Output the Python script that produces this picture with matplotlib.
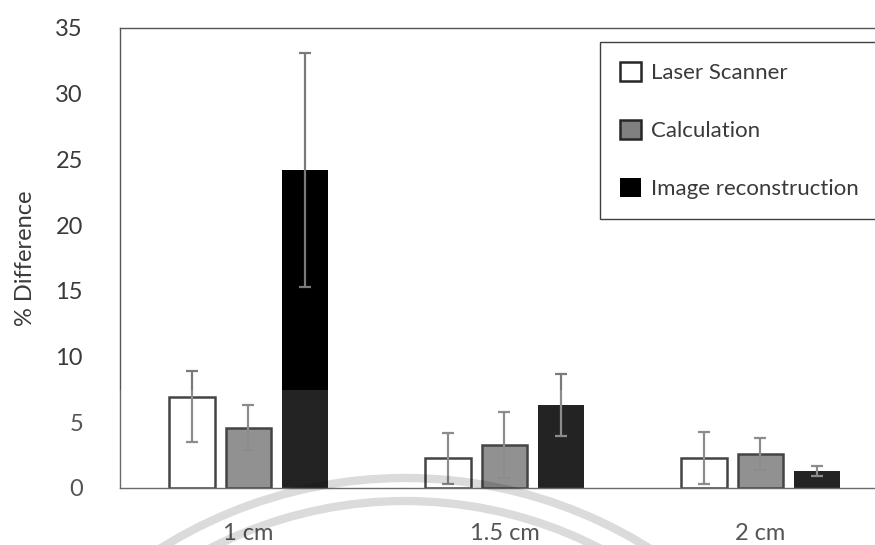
import numpy as np
import matplotlib
matplotlib.use("Agg")
import matplotlib.pyplot as plt
from matplotlib.patches import Arc, Rectangle

sizes = ["1 cm", "1.5 cm", "2 cm"]
methods = ["Laser Scanner", "Calculation", "Image reconstruction"]

laser = [6.9, 2.25, 2.3]
laser_lo = [3.4, 1.95, 2.0]
laser_hi = [2.0, 1.95, 1.95]
calc = [4.6, 3.25, 2.6]
calc_err = [1.7, 2.5, 1.2]
image = [24.2, 6.3, 1.3]
image_err = [8.9, 2.35, 0.4]

plt.rcParams['font.family'] = ['Lato', 'DejaVu Sans']
txt = '#3a3a3a'

fig = plt.figure(figsize=(8.75, 5.45), dpi=100)
ax = fig.add_axes([120.5 / 875, 57 / 545, 768 / 875, 460 / 545])

x = np.arange(len(sizes))
w = 0.178
step = 0.22
ekw = dict(ecolor='#7a7a7a', elinewidth=1.6, capsize=4, capthick=1.6)

ax.bar(x - step, laser, w, color='white', edgecolor='#262626', linewidth=1.8,
       yerr=[laser_lo, laser_hi], error_kw=ekw, label=methods[0])
ax.bar(x, calc, w, color='#808080', edgecolor='#262626', linewidth=1.8,
       yerr=calc_err, error_kw=ekw, label=methods[1])
ax.bar(x + step, image, w, color='black', edgecolor='black', linewidth=0,
       yerr=image_err, error_kw=ekw, label=methods[2])

ax.set_xlim(-0.5, 2.5)
ax.set_ylim(0, 35)
ax.set_yticks(range(0, 36, 5))
ax.set_xticks(x)
ax.set_xticklabels(sizes)
ax.tick_params(axis='both', length=0, labelsize=17, colors=txt)
ax.tick_params(axis='y', pad=27)
ax.tick_params(axis='x', pad=25)
ax.set_ylabel('% Difference', fontsize=17, color=txt, labelpad=14)
for s in ['left', 'top', 'bottom']:
    ax.spines[s].set_color('#555555')
    ax.spines[s].set_linewidth(1)
ax.spines['right'].set_visible(False)

fig.legend(loc='upper left', bbox_to_anchor=(600 / 875, 503 / 545), fontsize=16,
           frameon=True, fancybox=False, edgecolor='#404040', framealpha=1,
           handlelength=0.95, handleheight=0.95, handletextpad=0.45,
           labelspacing=1.65, borderpad=0.9, borderaxespad=0, labelcolor=txt)

# faint watermark over the lower part
ov = fig.add_axes([0, 0, 1, 1], zorder=10)
ov.set_xlim(0, 875)
ov.set_ylim(545, 0)
ov.axis('off')
ov.add_patch(Rectangle((0, 390), 875, 155, color='white', alpha=0.14, lw=0))
ov.add_patch(Arc((405, 938), 920, 920, theta1=180, theta2=360,
                 color='black', alpha=0.14, lw=6))
ov.add_patch(Arc((405, 926), 850, 850, theta1=180, theta2=360,
                 color='black', alpha=0.14, lw=6))

fig.savefig('out.png', dpi=100)
